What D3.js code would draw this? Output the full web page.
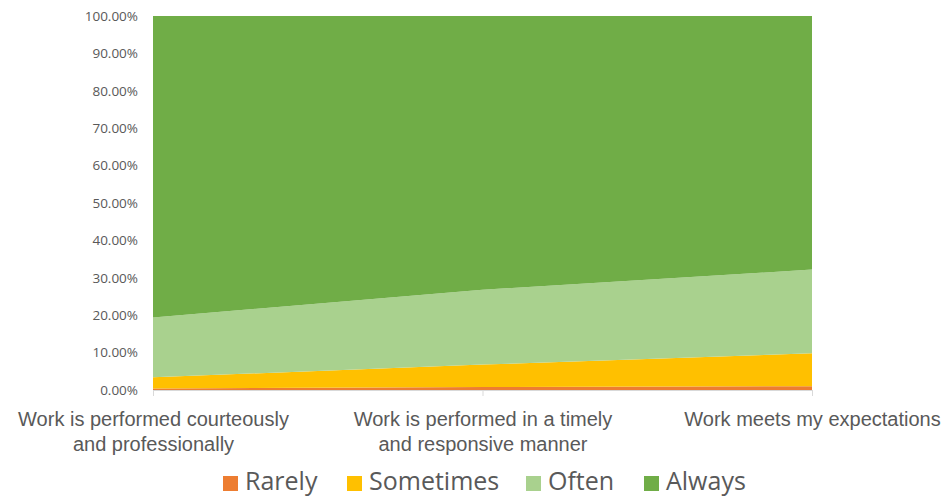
<!DOCTYPE html>
<html>
<head>
<meta charset="utf-8">
<script src="https://cdn.jsdelivr.net/npm/d3@7"></script>
<style>
  body { margin: 0; background: #fff; }
  svg { font-family: "Open Sans", "Noto Sans", sans-serif; }
</style>
</head>
<body>
<div id="chart"></div>
<script>
const WIDTH = 951;
const HEIGHT = 496;
const MARGINS = { left: 153, right: 139, top: 16, bottom: 106 };

// data
const categories = [
  ["Work is performed courteously", "and professionally"],
  ["Work is performed in a timely", "and responsive manner"],
  ["Work meets my expectations"]
];
const seriesNames = ["Rarely", "Sometimes", "Often", "Always"];
const rarely = [0.4, 0.8, 1.0];
const sometimes = [3.0, 6.0, 8.8];
const often = [16.0, 20.0, 22.4];
const always = [80.6, 73.2, 67.8];
const yTicks = [0, 10, 20, 30, 40, 50, 60, 70, 80, 90, 100];
const colors = ["#ED7D31", "#FFC000", "#A9D18E", "#70AD47"];

let rows = categories.map(function(c, i) {
  return { idx: i, Rarely: rarely[i], Sometimes: sometimes[i], Often: often[i], Always: always[i] };
});

let plot_width = WIDTH - MARGINS.left - MARGINS.right;
let plot_height = HEIGHT - MARGINS.top - MARGINS.bottom;

let svg = d3.select("#chart").append("svg")
  .attr("width", WIDTH)
  .attr("height", HEIGHT);

let g = svg.append("g")
  .attr("transform", "translate(" + MARGINS.left + "," + MARGINS.top + ")");

let x = d3.scalePoint()
  .domain(d3.range(categories.length))
  .range([0, plot_width]);

let y = d3.scaleLinear()
  .domain([0, 100])
  .range([plot_height, 0]);

let stack = d3.stack().keys(seriesNames);
let layers = stack(rows);

let area = d3.area()
  .x(function(d, i) { return x(i); })
  .y0(function(d) { return y(d[0]); })
  .y1(function(d) { return y(d[1]); });

g.selectAll(".layer")
  .data(layers)
  .enter()
  .append("path")
  .attr("class", "layer")
  .attr("fill", function(d, i) { return colors[i]; })
  .attr("d", area);

// y axis labels
let yAxis = g.append("g")
  .call(d3.axisLeft(y).tickValues(yTicks).tickSize(0).tickPadding(15)
    .tickFormat(function(d) { return d.toFixed(2) + "%"; }));
yAxis.select(".domain").remove();
yAxis.selectAll("text")
  .attr("fill", "#595959")
  .style("font-size", "13.5px")
  .style("font-family", "'Open Sans', sans-serif");

// x axis
let xAxis = g.append("g")
  .attr("transform", "translate(0," + plot_height + ")")
  .call(d3.axisBottom(x).tickSize(6).tickFormat(""));
xAxis.select(".domain").attr("stroke", "#d9d9d9").attr("d", "M0,0.5H" + plot_width);
xAxis.selectAll(".tick line").attr("stroke", "#d9d9d9");

xAxis.selectAll(".tick")
  .append("text")
  .attr("fill", "#595959")
  .attr("text-anchor", "middle")
  .style("font-size", "20px")
  .selectAll("tspan")
  .data(function(d) { return categories[d]; })
  .enter()
  .append("tspan")
  .attr("x", 0)
  .attr("y", function(d, i) { return 36 + i * 25; })
  .text(function(d) { return d; });

// legend
const legendX = [223, 347, 526, 644];
let legend = svg.append("g")
  .attr("transform", "translate(0,490)");
let items = legend.selectAll(".item")
  .data(seriesNames)
  .enter()
  .append("g")
  .attr("class", "item")
  .attr("transform", function(d, i) { return "translate(" + legendX[i] + ",0)"; });
items.append("rect")
  .attr("x", 0)
  .attr("y", -14)
  .attr("width", 15)
  .attr("height", 15)
  .attr("fill", function(d, i) { return colors[i]; });
items.append("text")
  .attr("x", 22)
  .attr("y", 0)
  .attr("fill", "#595959")
  .style("font-size", "25px")
  .text(function(d) { return d; });
</script>
</body>
</html>
